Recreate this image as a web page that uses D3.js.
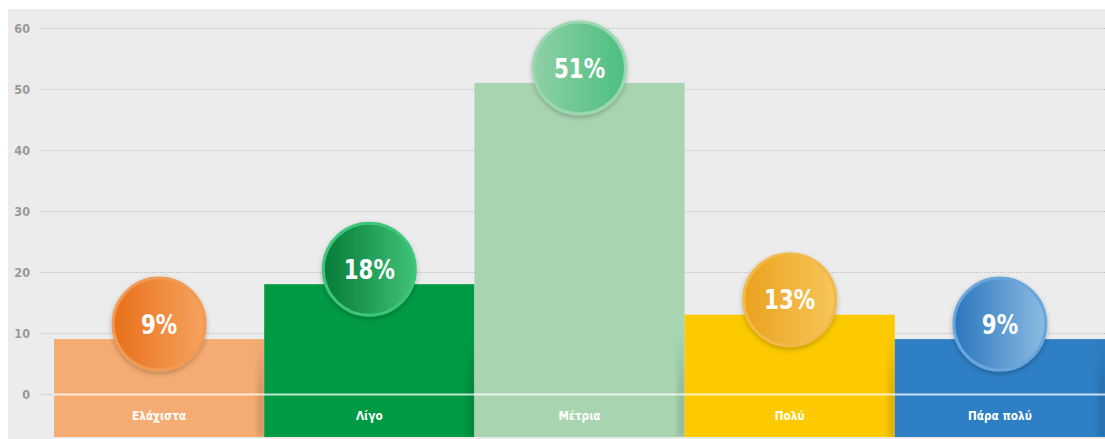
<!DOCTYPE html>
<html>
<head>
<meta charset="utf-8">
<script src="https://cdn.jsdelivr.net/npm/d3@7"></script>
<style>
  html, body { margin: 0; padding: 0; background: #ffffff; }
  svg { display: block; }
</style>
</head>
<body>
<script>
// Response categories and shares (%)
const categories = ["Ελάχιστα", "Λίγο", "Μέτρια", "Πολύ", "Πάρα πολύ"];
const values = [9, 18, 51, 13, 9];
const yTicks = [0, 10, 20, 30, 40, 50, 60];

// Bar fill and badge gradient colours per category
const barColors = ["#f4ac72", "#009a44", "#a8d5b0", "#fdca00", "#2e7fc4"];
const badgeDark = ["#e8701a", "#067a38", "#8fd0a6", "#e9a21e", "#2a76be"];
const badgeLight = ["#f6a35e", "#3fc278", "#4cbf80", "#f8c65a", "#8cbbe2"];
const badgeRim = ["#f09a55", "#3ec57a", "#9ad8b2", "#f2b84a", "#6aa6dc"];

const narrow = "'DejaVu Sans Condensed', 'Liberation Sans Narrow', sans-serif";

const W = 1105, H = 439;
const svg = d3.select("body").append("svg").attr("width", W).attr("height", H);
const defs = svg.append("defs");

// Panel background
svg.append("rect").attr("x", 8).attr("y", 9).attr("width", W - 8).attr("height", H - 9).attr("fill", "#ececec");

const x = d3.scaleBand().domain(categories).range([54, 1105]).padding(0);
const y = d3.scaleLinear().domain([0, 60]).range([394, 28]);
const baseExtra = 43; // bars run below the zero line to hold the category label

// Gridlines
const grid = svg.append("g");
grid.selectAll("line").data(yTicks).join("line")
  .attr("x1", 40).attr("x2", W)
  .attr("y1", d => y(d) + 0.5).attr("y2", d => y(d) + 0.5)
  .attr("stroke", "#bdbdbd").attr("stroke-width", 1).attr("stroke-dasharray", "1,1");

// Y axis labels
const yAxis = d3.axisLeft(y).tickValues(yTicks).tickSize(0).tickPadding(0);
const gy = svg.append("g").attr("transform", "translate(30,0)").call(yAxis);
gy.select(".domain").remove();
gy.selectAll("text")
  .attr("fill", "#999999")
  .style("font-family", narrow)
  .style("font-weight", "bold").style("font-size", "12.5px");

// Soft shadow on right edge of bars
const sh = defs.append("linearGradient").attr("id", "edgeShadow").attr("x1", 0).attr("x2", 1);
sh.append("stop").attr("offset", 0).attr("stop-color", "#000").attr("stop-opacity", 0);
sh.append("stop").attr("offset", 1).attr("stop-color", "#000").attr("stop-opacity", 0.18);
const shv = defs.append("linearGradient").attr("id", "edgeShadowV").attr("x1", 0).attr("x2", 0).attr("y1", 0).attr("y2", 1);
shv.append("stop").attr("offset", 0).attr("stop-color", "#fff").attr("stop-opacity", 0);
shv.append("stop").attr("offset", 0.5).attr("stop-color", "#fff").attr("stop-opacity", 1);
shv.append("stop").attr("offset", 1).attr("stop-color", "#fff").attr("stop-opacity", 1);
defs.append("mask").attr("id", "shadowMask").attr("maskContentUnits", "objectBoundingBox")
  .append("rect").attr("width", 1).attr("height", 1).attr("fill", "url(#edgeShadowV)");

const blur = defs.append("filter").attr("id", "soft").attr("x", "-50%").attr("y", "-50%").attr("width", "200%").attr("height", "200%");
blur.append("feGaussianBlur").attr("stdDeviation", 2);

// Bars
const bars = svg.append("g");
bars.selectAll("rect").data(values).join("rect")
  .attr("x", (d, i) => x(categories[i]))
  .attr("y", d => y(d))
  .attr("width", x.bandwidth())
  .attr("height", d => y(0) - y(d) + baseExtra)
  .attr("fill", (d, i) => barColors[i]);

// Edge shadows
svg.append("g").selectAll("rect").data(values).join("rect")
  .attr("x", (d, i) => x(categories[i]) + x.bandwidth() - 10)
  .attr("y", d => Math.max(y(d), y(0) - 60))
  .attr("width", 10)
  .attr("height", d => y(0) + baseExtra - Math.max(y(d), y(0) - 60))
  .attr("fill", "url(#edgeShadow)")
  .attr("filter", "url(#soft)")
  .attr("mask", "url(#shadowMask)");

// Zero line across bars
svg.append("line")
  .attr("x1", x.range()[0]).attr("x2", W)
  .attr("y1", y(0) + 0.5).attr("y2", y(0) + 0.5)
  .attr("stroke", "#ffffff").attr("stroke-opacity", 0.75).attr("stroke-width", 2);

// Category labels (horizontally condensed)
svg.append("g").selectAll("text").data(categories).join("text")
  .attr("transform", d => `translate(${x(d) + x.bandwidth() / 2},${y(0) + 26}) scale(0.9,1)`)
  .attr("text-anchor", "middle")
  .attr("fill", "#ffffff")
  .style("font-family", narrow)
  .style("font-weight", "bold").style("font-size", "13px")
  .text(d => d);

// Badge gradients
values.forEach((v, i) => {
  const g = defs.append("linearGradient").attr("id", "badge" + i).attr("x1", 0).attr("x2", 1).attr("y1", 0).attr("y2", 0);
  g.append("stop").attr("offset", 0).attr("stop-color", badgeDark[i]);
  g.append("stop").attr("offset", 1).attr("stop-color", badgeLight[i]);
});

const dropShadow = defs.append("filter").attr("id", "badgeShadow").attr("x", "-30%").attr("y", "-30%").attr("width", "160%").attr("height", "160%");
dropShadow.append("feDropShadow").attr("dx", 0).attr("dy", 2).attr("stdDeviation", 2.5)
  .attr("flood-color", "#000").attr("flood-opacity", 0.25);

// Value badges
const badges = svg.append("g").selectAll("g").data(values).join("g")
  .attr("transform", (d, i) => `translate(${x(categories[i]) + x.bandwidth() / 2},${y(d) - 15})`);

badges.append("circle")
  .attr("r", 46)
  .attr("fill", (d, i) => `url(#badge${i})`)
  .attr("stroke", (d, i) => badgeRim[i])
  .attr("stroke-width", 3)
  .attr("filter", "url(#badgeShadow)");

badges.append("text")
  .attr("text-anchor", "middle")
  .attr("dy", "0.36em")
  .attr("transform", "scale(0.88,1)")
  .attr("fill", "#ffffff")
  .style("font-family", narrow)
  .style("font-weight", "bold").style("font-size", "27px")
  .text(d => d + "%");
</script>
</body>
</html>
